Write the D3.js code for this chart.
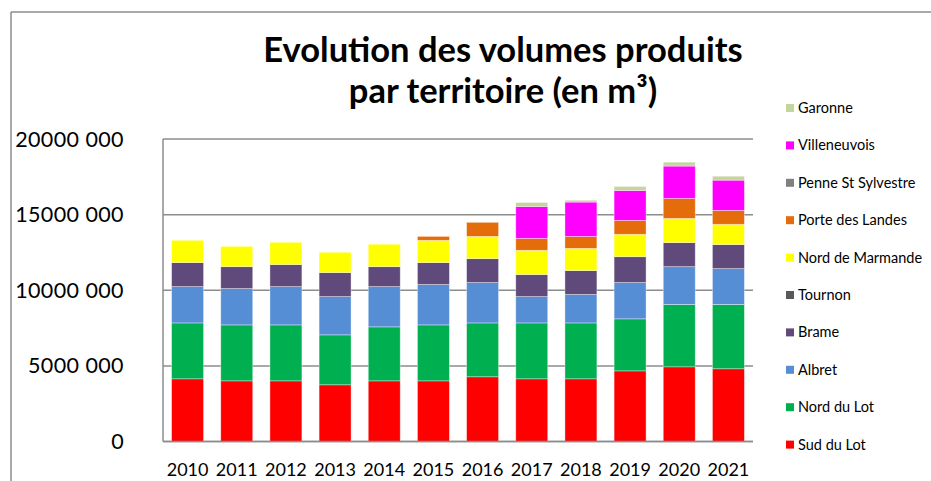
<!DOCTYPE html>
<html>
<head>
<meta charset="utf-8">
<script src="https://cdn.jsdelivr.net/npm/d3@7"></script>
<style>
  body { margin: 0; background: #fff; }
  svg { display: block; font-family: Lato, "Open Sans", sans-serif; }
</style>
</head>
<body>
<div id="chart"></div>
<script>
// data (m3)
var years = ["2010", "2011", "2012", "2013", "2014", "2015", "2016", "2017", "2018", "2019", "2020", "2021"];
var territories = ["Sud du Lot", "Nord du Lot", "Albret", "Brame", "Tournon", "Nord de Marmande",
    "Porte des Landes", "Penne St Sylvestre", "Villeneuvois", "Garonne"];
var legendLabels = ["Sud du Lot", "Nord du Lot", "Albret", "Brame", "Tournon", "Nord de Marmande",
    "Porte des Landes", "Penne St Sylvestre", "Villeneuvois", "Garonne"];
var colors = ["#ff0000", "#00b050", "#558ed5", "#604a7b", "#595959", "#ffff00",
    "#e46c0a", "#808080", "#ff00ff", "#c3d69b"];

var sudDuLot        = [4145000, 4010000, 4010000, 3750000, 4010000, 4010000, 4280000, 4145000, 4145000, 4670000, 4940000, 4810000];
var nordDuLot       = [3695000, 3700000, 3700000, 3300000, 3570000, 3700000, 3560000, 3695000, 3695000, 3440000, 4120000, 4250000];
var albret          = [2400000, 2400000, 2530000, 2530000, 2660000, 2670000, 2670000, 1740000, 1880000, 2400000, 2500000, 2370000];
var brame           = [1590000, 1450000, 1460000, 1590000, 1320000, 1450000, 1580000, 1460000, 1580000, 1710000, 1590000, 1590000];
var tournon         = [0, 0, 0, 0, 0, 0, 0, 0, 0, 0, 0, 0];
var nordDeMarmande  = [1470000, 1340000, 1470000, 1340000, 1480000, 1470000, 1470000, 1600000, 1470000, 1480000, 1600000, 1340000];
var porteDesLandes  = [0, 0, 0, 0, 0, 260000, 930000, 790000, 790000, 920000, 1320000, 920000];
var penneStSylvestre = [0, 0, 0, 0, 0, 0, 0, 0, 0, 0, 0, 0];
var villeneuvois    = [0, 0, 0, 0, 0, 0, 0, 2110000, 2270000, 1980000, 2140000, 2000000];
var garonne         = [0, 0, 0, 0, 0, 0, 0, 260000, 120000, 260000, 260000, 260000];

var yTicks = [0, 5000000, 10000000, 15000000, 20000000];

var series = [sudDuLot, nordDuLot, albret, brame, tournon, nordDeMarmande,
    porteDesLandes, penneStSylvestre, villeneuvois, garonne];

// build table for d3.stack
var table = years.map(function (y, i) {
    var row = { year: y };
    territories.forEach(function (t, j) { row[t] = series[j][i]; });
    return row;
});

var W = 931, H = 481;
var margin = { top: 139, left: 163, right: 178, bottom: 40 };
var width = W - margin.left - margin.right;
var height = 441.5 - margin.top;

var svg = d3.select("#chart").append("svg")
    .attr("width", W)
    .attr("height", H);

// outer chart frame (only top and left visible)
svg.append("line")
    .attr("x1", 11).attr("x2", W).attr("y1", 12).attr("y2", 12)
    .attr("stroke", "#8c8c8c").attr("stroke-width", 1.5);
svg.append("line")
    .attr("x1", 11).attr("x2", 11).attr("y1", 12).attr("y2", H)
    .attr("stroke", "#8c8c8c").attr("stroke-width", 1.5);

var g = svg.append("g")
    .attr("transform", "translate(" + margin.left + "," + margin.top + ")");

var x = d3.scaleBand()
    .domain(years)
    .range([0, width])
    .paddingInner(0.35)
    .paddingOuter(0.175);

var y = d3.scaleLinear()
    .domain([0, 20000000])
    .range([height, 0]);

// gridlines
g.append("g")
    .selectAll("line")
    .data(yTicks)
    .join("line")
        .attr("x1", 0)
        .attr("x2", width)
        .attr("y1", d => y(d))
        .attr("y2", d => y(d))
        .attr("stroke", "#8c8c8c")
        .attr("stroke-width", 1.5);

// y tick labels
var fmt = function (d) {
    if (d === 0) return "0";
    var s = String(d);
    return s.slice(0, s.length - 3) + " " + s.slice(s.length - 3);
};
svg.append("g")
    .selectAll("text")
    .data(yTicks)
    .join("text")
        .attr("x", 124)
        .attr("y", d => margin.top + y(d))
        .attr("dy", "0.35em")
        .attr("text-anchor", "end")
        .style("font-size", "21.5px")
        .style("letter-spacing", "0.4px")
        .attr("fill", "#000")
        .text(fmt);

// stacked bars
var stack = d3.stack().keys(territories);
var layers = stack(table);

g.append("g")
    .selectAll("g")
    .data(layers)
    .join("g")
        .attr("fill", (d, i) => colors[i])
    .selectAll("rect")
    .data(d => d.filter(p => p[1] - p[0] > 0))
    .join("rect")
        .attr("x", d => x(d.data.year))
        .attr("y", d => y(d[1]))
        .attr("width", x.bandwidth())
        .attr("height", d => y(d[0]) - y(d[1]))
        .attr("stroke", "#ffffff")
        .attr("stroke-opacity", 0.45)
        .attr("stroke-width", 0.8);

// axes lines
g.append("line")
    .attr("x1", 0).attr("x2", 0).attr("y1", 0).attr("y2", height)
    .attr("stroke", "#8c8c8c").attr("stroke-width", 1.5);
g.append("line")
    .attr("x1", 0).attr("x2", width).attr("y1", height).attr("y2", height)
    .attr("stroke", "#8c8c8c").attr("stroke-width", 1.5);

// x labels
g.append("g")
    .selectAll("text")
    .data(years)
    .join("text")
        .attr("x", d => x(d) + x.bandwidth() / 2)
        .attr("y", height + 34)
        .attr("text-anchor", "middle")
        .style("font-size", "18px")
        .text(d => d);

// title
var title = svg.append("text")
    .attr("text-anchor", "middle")
    .style("font-size", "34.5px")
    .style("font-weight", "bold");
title.append("tspan").attr("x", 503).attr("y", 62).text("Evolution des volumes produits");
title.append("tspan").attr("x", 503).attr("y", 103).text("par territoire (en m³)");

// legend (reversed order, Garonne on top)
var legend = svg.append("g")
    .selectAll("g")
    .data(legendLabels.map((l, i) => ({ label: l, color: colors[i] })).reverse())
    .join("g")
        .attr("transform", (d, i) => "translate(786," + (108 + i * 37.4) + ")");

legend.append("rect")
    .attr("x", 0).attr("y", -4)
    .attr("width", 8).attr("height", 8)
    .attr("fill", d => d.color);

legend.append("text")
    .attr("x", 12)
    .attr("y", 0)
    .attr("dy", "0.35em")
    .style("font-size", "14.5px")
    .text(d => d.label);
</script>
</body>
</html>
